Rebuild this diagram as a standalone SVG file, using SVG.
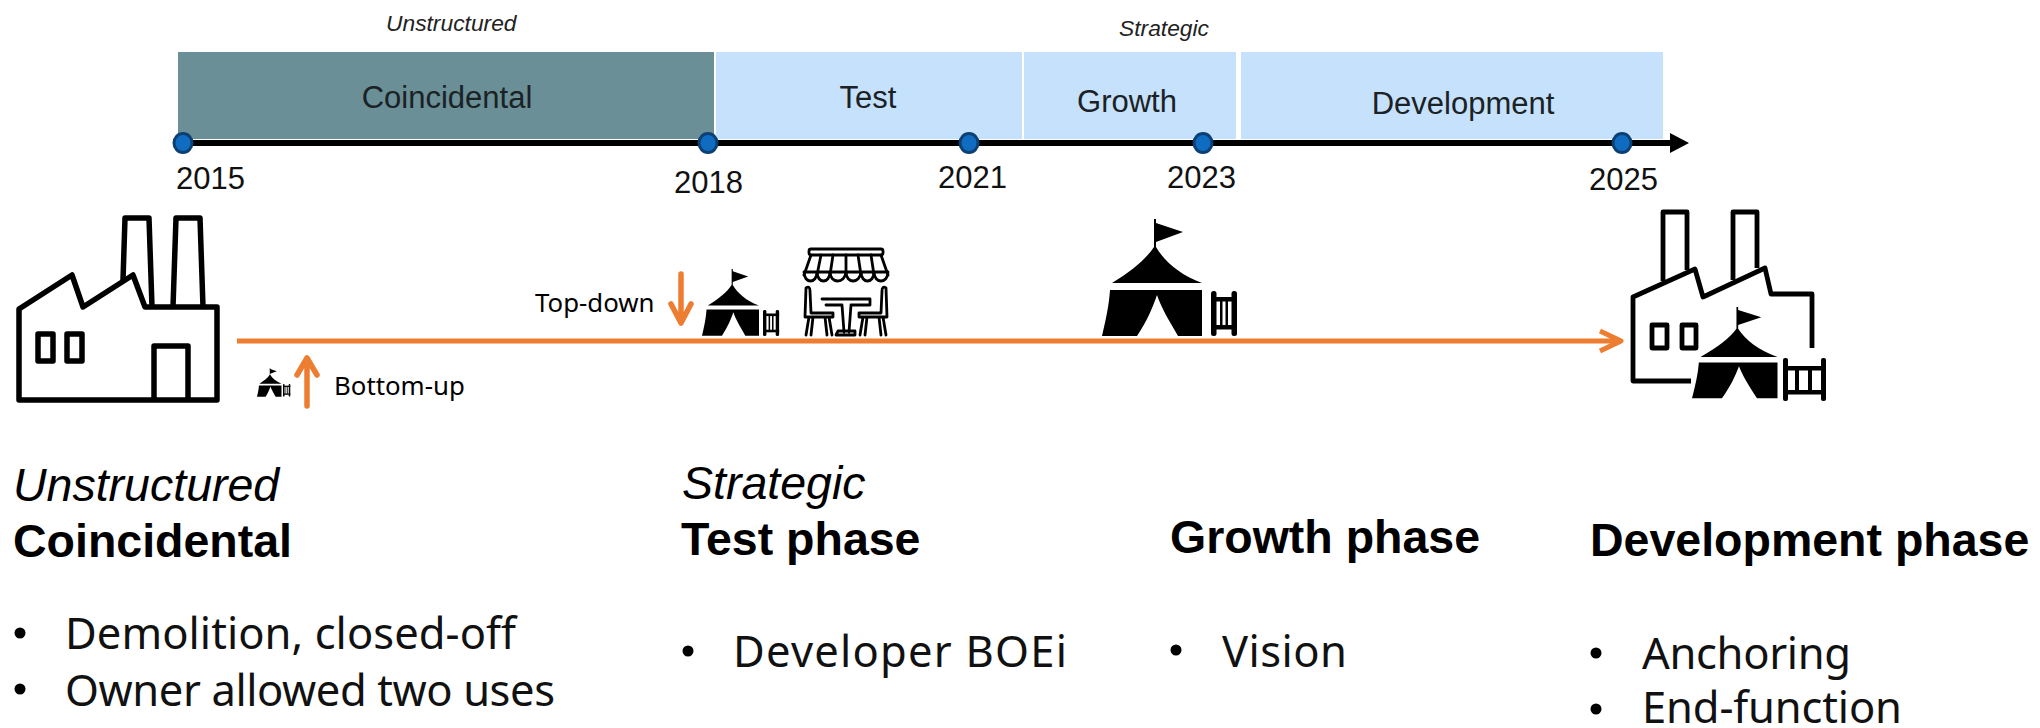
<svg xmlns="http://www.w3.org/2000/svg" width="2040" height="728" viewBox="0 0 2040 728">
<style>
text{font-family:"Liberation Sans",Arial,sans-serif;fill:#111}
.tl{font-size:31px;text-anchor:middle;fill:#1a2226}
.yr{font-size:31px}
.it{font-size:22.8px;font-style:italic;fill:#222}
.h{font-size:46.5px;font-weight:bold;fill:#000}
.i{font-size:46.5px;font-style:italic;fill:#000}
.b{font-family:"Noto Sans","Liberation Sans",sans-serif;font-size:43.5px;fill:#111}
.s{font-family:"Noto Sans","Liberation Sans",sans-serif;font-size:25.8px;fill:#000}
.lt{fill:#c6e1fb}
.dot{fill:#0f6cc0;stroke:#0c3f73;stroke-width:3}
.o{fill:none;stroke:#ed7d31;stroke-width:5;stroke-linecap:round;stroke-linejoin:round}
.k{fill:none;stroke:#000;stroke-width:5.5;stroke-linejoin:round}
.c{fill:none;stroke:#000;stroke-width:2.8;stroke-linejoin:round;stroke-linecap:round}
</style>
<defs>
<g id="tent">
<path d="M52 0L54 0L54 4L81 13L54 23L54 28C62 42 78 56 100 64L10 64C30 52 44 40 52 28Z" fill="#000"/>
<path d="M8 71H100V117H76C66 100 59 88 55 76C50 90 45 102 35 117H0C4 100 7 86 8 71Z" fill="#000"/>
</g>
<g id="fence" fill="#000">
<rect x="0" y="0" width="5.5" height="45" rx="2.5"/><rect x="20.5" y="0" width="5.5" height="45" rx="2.5"/>
<rect x="0" y="6" width="26" height="4.5"/><rect x="0" y="34" width="26" height="4.5"/>
<rect x="9" y="8" width="2.5" height="28"/><rect x="14.5" y="8" width="2.5" height="28"/>
</g>
</defs>
<rect width="2040" height="728" fill="#fff"/>
<g id="timeline-bands">
<rect x="178" y="52" width="536" height="87" fill="#6a8f96"/>
<rect class="lt" x="716" y="52" width="306" height="87"/>
<rect class="lt" x="1024" y="52" width="212" height="87"/>
<rect class="lt" x="1241" y="52" width="422" height="87"/>
<text class="tl" x="447" y="108">Coincidental</text>
<text class="tl" x="868" y="108">Test</text>
<text class="tl" x="1127" y="112">Growth</text>
<text class="tl" x="1463" y="114">Development</text>
<text class="it" x="386" y="31">Unstructured</text>
<text class="it" x="1119" y="36">Strategic</text>
</g>
<g id="connectors">
<path d="M183 143H1676" stroke="#000" stroke-width="6" fill="none"/>
<path d="M1670 133L1689 143L1670 153Z" fill="#000"/>
<path class="o" d="M237 341H1620M1600 331L1621 341L1600 351" style="stroke-linecap:butt"/>
<path class="o" d="M307 406V358M297 375L307 358L317 375" style="stroke-width:5.5"/>
<path class="o" d="M681 274V323M671 304L681 323L691 304" style="stroke-width:5.5"/>
</g>
<g id="year-2015"><ellipse class="dot" cx="183" cy="143" rx="9" ry="9.5"/><text class="yr" x="176" y="189">2015</text></g>
<g id="year-2018"><ellipse class="dot" cx="708" cy="143" rx="9" ry="9.5"/><text class="yr" x="674" y="193">2018</text></g>
<g id="year-2021"><ellipse class="dot" cx="969" cy="143" rx="9" ry="9.5"/><text class="yr" x="938" y="188">2021</text></g>
<g id="year-2023"><ellipse class="dot" cx="1203" cy="143" rx="9" ry="9.5"/><text class="yr" x="1167" y="188">2023</text></g>
<g id="year-2025"><ellipse class="dot" cx="1622" cy="143" rx="9" ry="9.5"/><text class="yr" x="1589" y="190">2025</text></g>
<g id="factory-start" class="k">
<path d="M19 400V309L72 275L83 307L133 275L145 307H217V400Z"/>
<path d="M123 280L125 218H149L152 307M173 307L176 218H200L203 307"/>
<rect x="38" y="334" width="15" height="27"/><rect x="67" y="334" width="15" height="27"/>
<path d="M154 400V346H188V400"/>
</g>
<g id="tent-small">
<use href="#tent" transform="translate(257 368) scale(.245)"/>
<use href="#fence" transform="translate(283 384) scale(.28)"/>
</g>
<g id="label-bottom-up"><text class="s" x="334" y="395">Bottom-up</text></g>
<g id="label-top-down"><text class="s" x="535" y="312">Top-down</text></g>
<g id="tent-medium">
<use href="#tent" transform="translate(702 269) scale(.57)"/>
<use href="#fence" transform="translate(763 310) scale(.62 .58)"/>
</g>
<g id="cafe" class="c">
<rect x="809" y="249" width="74" height="6" rx="2"/>
<path d="M811 255L804 275M821 255L817 275M833 255L830 275M846 255V275M858 255L861 275M871 255L874 275M881 255L888 275"/>
<path d="M804 272C804 284 817 284 817 272C817 284 830 284 830 272C830 284 845 284 846 272C846 284 860 284 861 272C861 284 874 284 874 272C874 284 888 284 888 272H804Z"/>
<path d="M806 288C809 286 810 288 810 291L811 313H833V317H805ZM809 317L806 335M829 317L832 335M813 317L811 335M825 317L827 335"/>
<path d="M886 288C883 286 882 288 882 291L881 313H859V317H887ZM883 317L886 335M863 317L860 335M879 317L881 335M867 317L865 335"/>
<path d="M822 299H870V305H851M841 305H826M842 305L844 332M851 305L849 332M836 335H855V331H838Z"/>
</g>
<g id="tent-large">
<use href="#tent" transform="translate(1102 219)"/>
<use href="#fence" transform="translate(1211 291)"/>
</g>
<g id="factory-end">
<g class="k" style="stroke-width:4.8">
<path d="M1691 381H1633V297L1695 269L1703 297L1765 268L1771 294H1812V348"/>
<path d="M1663 281V212H1687V270M1733 280V212H1757V268"/>
<rect x="1652" y="325" width="15" height="23"/><rect x="1682" y="325" width="14" height="23"/>
</g>
<use href="#tent" transform="translate(1692 307) scale(.855 .78)"/>
<g fill="#000">
<rect x="1783" y="358" width="5" height="43" rx="2"/><rect x="1821" y="358" width="5" height="43" rx="2"/>
<rect x="1783" y="366" width="43" height="4.5"/><rect x="1783" y="390" width="43" height="4.5"/>
<rect x="1795" y="368" width="4" height="24"/><rect x="1808" y="368" width="4" height="24"/>
</g>
</g>
<g id="col-coincidental">
<text class="i" x="13" y="501">Unstructured</text>
<text class="h" x="13" y="557">Coincidental</text>
<circle cx="20" cy="633" r="5.5"/><text class="b" x="65" y="649" textLength="451">Demolition, closed-off</text>
<circle cx="20" cy="689" r="5.5"/><text class="b" x="65" y="706" textLength="490">Owner allowed two uses</text>
</g>
<g id="col-test">
<text class="i" x="682" y="499">Strategic</text>
<text class="h" x="681" y="555">Test phase</text>
<circle cx="688" cy="651" r="5.5"/><text class="b" x="733" y="667" textLength="334">Developer BOEi</text>
</g>
<g id="col-growth">
<text class="h" x="1170" y="553">Growth phase</text>
<circle cx="1176" cy="650" r="5.5"/><text class="b" x="1222" y="667" textLength="125">Vision</text>
</g>
<g id="col-development">
<text class="h" x="1590" y="556">Development phase</text>
<circle cx="1596" cy="653" r="5.5"/><text class="b" x="1642" y="669" textLength="209">Anchoring</text>
<circle cx="1596" cy="709" r="5.5"/><text class="b" x="1642" y="723" textLength="260">End-function</text>
</g>
</svg>
